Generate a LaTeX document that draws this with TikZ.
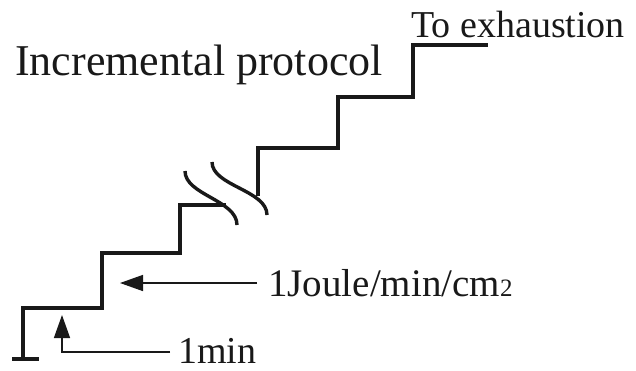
\documentclass[tikz,border=0pt]{standalone}
\usepackage{fontspec}
\setmainfont{Liberation Serif}
\usetikzlibrary{arrows.meta}
\begin{document}
\begin{tikzpicture}[x=1pt,y=-1pt,
  stair/.style={line width=3.4pt,line join=miter,black!90},
  brk/.style={line width=3.4pt,black!90},
  pointer/.style={line width=1.4pt,black!90,-{Triangle[length=23pt,width=16pt]}},
  lbl/.style={anchor=base west,inner sep=0pt,text=black!90}]
\useasboundingbox (0,0) rectangle (636,370);
% labels
\node[lbl,font=\fontsize{44}{48}\selectfont] (title) at (15,75) {Incremental protocol};
\node[lbl,font=\fontsize{38}{42}\selectfont] (exh) at (411,37) {To exhaustion};
\node[lbl,font=\fontsize{39}{42}\selectfont] (work) at (268,296) {1Joule/min/cm{\fontsize{25}{27}\selectfont 2}};
\node[lbl,font=\fontsize{38}{42}\selectfont] (time) at (178,363) {1min};
% staircase
\draw[stair] (12,359) -- (39,359);
\draw[stair] (23,359) -- (23,308) -- (102,308) -- (102,253) -- (180,253) -- (180,205) -- (226,205);
\draw[stair] (258,196) -- (258,148) -- (338,148) -- (338,97) -- (413,97) -- (413,45) -- (488,45);
% break marks
\draw[brk] (185,171) .. controls (185,195) and (237,200) .. (237,225);
\draw[brk] (212,162) .. controls (212,186) and (267,190) .. (267,215);
% pointers
\coordinate (wstart) at (257,283);
\coordinate (wtip) at (120,283);
\coordinate (tstart) at (170,352);
\coordinate (tbend) at (62,352);
\coordinate (ttip) at (62,315);
\draw[pointer] (wstart) -- (wtip);
\draw[pointer] (tstart) -- (tbend) -- (ttip);
\end{tikzpicture}
\end{document}
